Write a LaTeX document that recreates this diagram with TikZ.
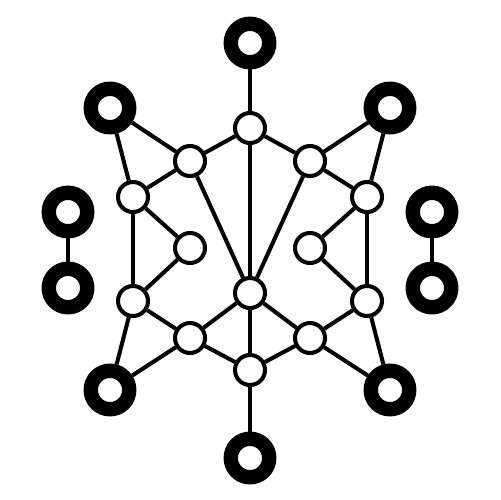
\documentclass[tikz,border=0pt]{standalone}
\begin{document}
\begin{tikzpicture}[x=0.02cm,y=-0.02cm,
  ring/.style={circle,draw=black,line width=8.2pt,fill=white,minimum size=0.77cm,inner sep=0pt},
  dot/.style={circle,draw=black,line width=2.3pt,fill=white,minimum size=0.6cm,inner sep=0pt},
  link/.style={line width=2.3pt,draw=black}]
\useasboundingbox (0,0) rectangle (500,500);
% edges first via coordinates of nodes (drawn after nodes, placed on top is fine)
\node[ring] (T) at (250,43) {};
\node[ring] (UL) at (110,108) {};
\node[ring] (UR) at (390,108) {};
\node[ring] (L1) at (68,212) {};
\node[ring] (L2) at (68,288) {};
\node[ring] (R1) at (432,212) {};
\node[ring] (R2) at (432,288) {};
\node[ring] (LL) at (110,390) {};
\node[ring] (LR) at (390,390) {};
\node[ring] (B) at (250,458) {};
\node[dot] (a) at (250,128) {};
\node[dot] (b) at (190,161) {};
\node[dot] (c) at (310,161) {};
\node[dot] (d) at (133,197) {};
\node[dot] (e) at (367,197) {};
\node[dot] (f) at (190,248) {};
\node[dot] (g) at (310,248) {};
\node[dot] (h) at (250,293) {};
\node[dot] (i) at (133,301) {};
\node[dot] (j) at (367,301) {};
\node[dot] (k) at (190,338) {};
\node[dot] (l) at (310,338) {};
\node[dot] (m) at (250,370) {};
\foreach \p/\q in {T/a,a/b,a/c,a/h,UL/b,UL/d,UR/c,UR/e,b/d,c/e,b/h,c/h,d/f,e/g,d/i,e/j,f/i,g/j,i/k,j/l,i/LL,j/LR,k/LL,l/LR,k/h,l/h,k/m,l/m,h/m,m/B,L1/L2,R1/R2}
  \draw[link] (\p) -- (\q);
\end{tikzpicture}
\end{document}
